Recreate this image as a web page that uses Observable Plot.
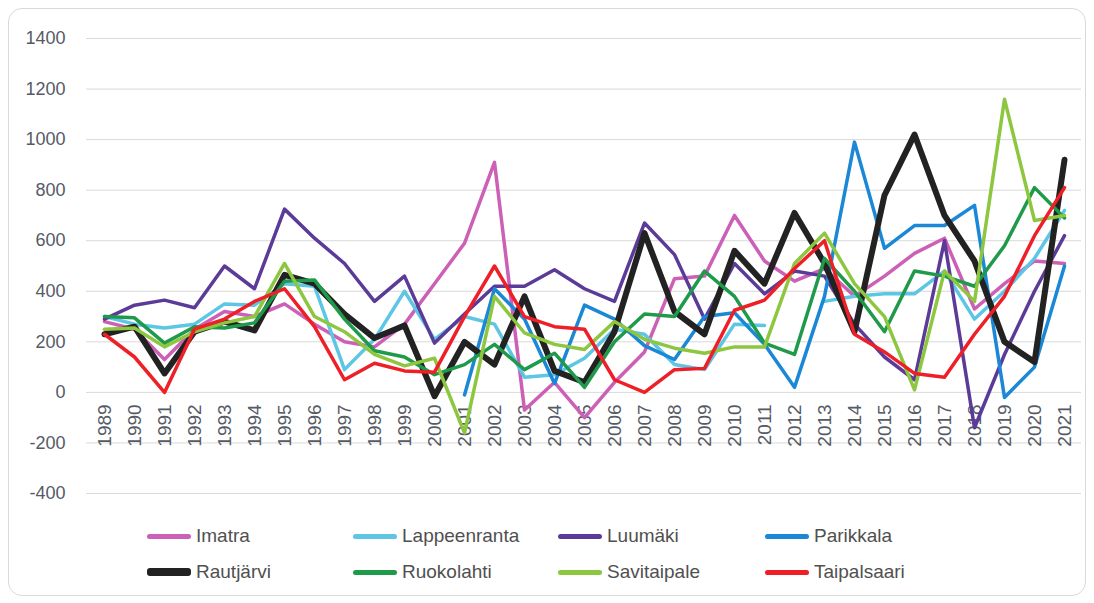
<!DOCTYPE html>
<html><head><meta charset="utf-8">
<script src="https://cdn.jsdelivr.net/npm/d3@7"></script>
<script src="https://cdn.jsdelivr.net/npm/@observablehq/plot@0.6"></script>
<style>
body{margin:0;background:#fff;font-family:"Liberation Sans",Arial,sans-serif;}
#frame{position:absolute;left:8px;top:8px;width:1076px;height:586px;border:1px solid #d9d9d9;border-radius:14px;}
#chart{position:absolute;left:0;top:0;}
#legend{position:absolute;left:0;top:515px;width:1094px;height:80px;}
.item{position:absolute;display:flex;align-items:center;font-family:"Liberation Sans",Arial,sans-serif;font-size:19px;color:#505050;white-space:nowrap;}
.sw{width:44px;border-radius:3px;margin-right:5px;}
</style></head><body>
<div id="frame"></div>
<div id="chart"></div>
<div id="legend"></div>
<script>
const years = [1989,1990,1991,1992,1993,1994,1995,1996,1997,1998,1999,2000,2001,2002,2003,2004,2005,2006,2007,2008,2009,2010,2011,2012,2013,2014,2015,2016,2017,2018,2019,2020,2021];
const yTicks = [-400,-200,0,200,400,600,800,1000,1200,1400];
const names = ["Imatra","Lappeenranta","Luumäki","Parikkala","Rautjärvi","Ruokolahti","Savitaipale","Taipalsaari"];
const colors = ["#cc5fb6","#5cc6e4","#5b3b97","#1a88d6","#222222","#1f9a4a","#8dc63f","#ee1f27"];

const imatra       = [280,250,130,250,320,300,350,270,200,180,270,430,590,910,-70,40,-100,40,160,450,460,700,520,440,490,380,460,550,610,330,430,520,510];
const lappeenranta = [300,270,255,270,350,345,430,420,90,210,400,210,300,270,60,70,135,250,230,110,90,270,265,null,360,380,390,390,480,290,400,530,720];
const luumaki      = [290,345,365,335,500,410,725,610,510,360,460,195,310,420,420,485,410,360,670,545,290,510,390,480,460,270,140,50,600,-140,150,400,620];
const parikkala    = [null,null,null,null,null,null,null,null,null,null,null,null,-10,410,290,35,345,290,185,130,300,315,190,20,380,990,570,660,660,740,-20,100,500];
const rautjarvi    = [230,260,75,240,280,245,465,430,310,215,265,-15,200,110,380,85,40,240,630,320,230,560,430,710,510,240,780,1020,700,520,200,120,920];
const ruokolahti   = [300,295,195,260,255,275,440,445,290,165,140,70,110,190,90,155,20,200,310,300,480,380,195,150,530,400,240,480,460,420,580,810,690];
const savitaipale  = [250,255,180,240,275,300,510,300,240,150,105,135,-160,380,235,190,170,280,210,175,155,180,180,510,630,430,300,10,480,360,1160,680,700];
const taipalsaari  = [230,140,0,250,290,360,410,260,50,115,85,80,300,500,300,260,250,50,0,90,95,325,365,490,600,230,160,75,60,230,380,620,810];

const seriesValues = [imatra,lappeenranta,luumaki,parikkala,rautjarvi,ruokolahti,savitaipale,taipalsaari];
const widths = names.map(n => n === "Rautjärvi" ? 6 : 3.5);

const lineMarks = names.map((n, i) => Plot.line(
  years.map((yr, j) => ({year: yr, value: seriesValues[i][j]})),
  {x: "year", y: "value", stroke: colors[i], strokeWidth: widths[i], strokeLinejoin: "round", strokeLinecap: "round"}
));

const chart = Plot.plot({
  width: 1094,
  height: 510,
  marginTop: 38,
  marginBottom: 17,
  marginLeft: 86,
  marginRight: 13,
  style: {color: "#555b66", background: "transparent", fontFamily: "Liberation Sans, Arial, sans-serif"},
  x: {type: "point", domain: years, padding: 0.5, axis: null},
  y: {domain: [-400, 1400], axis: null},
  marks: [
    Plot.ruleY(yTicks, {stroke: "#d9d9d9", strokeWidth: 1}),
    Plot.axisY(yTicks, {tickSize: 0, tickPadding: 21, fontSize: 18, label: null, tickFormat: d => d < 0 ? "-" + Math.abs(d) : String(d)}),
    Plot.text(years, {x: d => d, y: years.map(() => 0), text: d => String(d), rotate: -90, textAnchor: "end", dy: 12, fontSize: 19, fill: "#555b66"}),
    ...lineMarks
  ]
});
document.getElementById("chart").appendChild(chart);

const legend = document.getElementById("legend");
const colX = [147, 353, 558, 765];
names.forEach((n, i) => {
  const it = document.createElement("div");
  it.className = "item";
  it.style.left = colX[i % 4] + "px";
  it.style.top = (i < 4 ? 10 : 46) + "px";
  const sw = document.createElement("span");
  sw.className = "sw";
  sw.style.background = colors[i];
  sw.style.height = (n === "Rautjärvi" ? 8 : 5) + "px";
  it.appendChild(sw);
  const t = document.createElement("span");
  t.textContent = n;
  it.appendChild(t);
  legend.appendChild(it);
});
</script>
</body></html>
